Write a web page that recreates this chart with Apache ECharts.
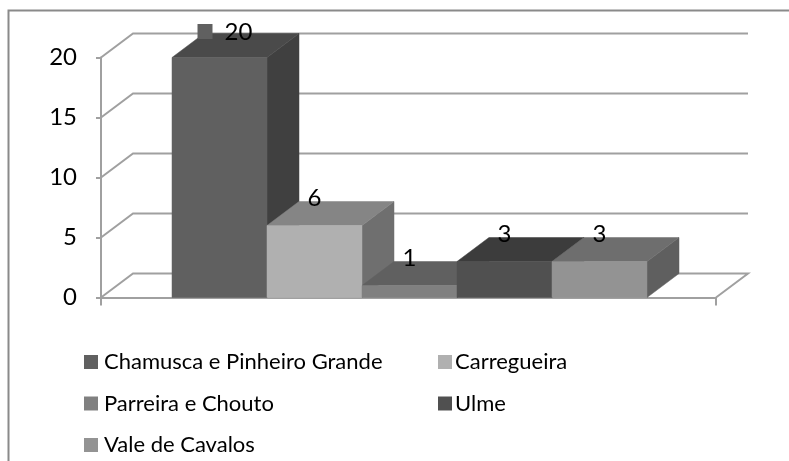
<!DOCTYPE html>
<html>
<head>
<meta charset="utf-8">
<script src="https://cdn.jsdelivr.net/npm/echarts@6/dist/echarts.min.js"></script>
<style>
  html, body { margin: 0; padding: 0; background: #fff; }
  #main { width: 789px; height: 461px; }
</style>
</head>
<body>
<div id="main"></div>
<script>
const category = ['Freguesias'];
const parishes = ['Chamusca e Pinheiro Grande', 'Carregueira', 'Parreira e Chouto', 'Ulme', 'Vale de Cavalos'];
const values = [20, 6, 1, 3, 3];
const yTicks = [0, 5, 10, 15, 20];

// front, top, side
const shades = [
  ['#606060', '#4a4a4a', '#404040'],
  ['#b0b0b0', '#858585', '#6f6f6f'],
  ['#808080', '#606060', '#525252'],
  ['#505050', '#3c3c3c', '#333333'],
  ['#939393', '#6e6e6e', '#5f5f5f']
];
const lineColor = '#a0a0a0';
const textColor = '#000';
const font = 'Lato';
const depthX = 32, depthY = 24, barWidth = 95, nudge = 1;

const chart = echarts.init(document.getElementById('main'), null, { renderer: 'canvas' });

function wallItem(params, api) {
  const p = api.coord([0, api.value(0)]);
  const half = api.size([1, 0])[0] / 2;
  const x0 = p[0] - half, x1 = p[0] + half, y = p[1];
  const isFloor = api.value(0) === 0;
  const pts = [[x0, y], [x0 + depthX, y - depthY], [x1 + depthX, y - depthY]];
  if (isFloor) pts.push([x1, y]);
  return {
    type: 'polyline',
    shape: { points: pts },
    style: { stroke: lineColor, lineWidth: 2, fill: null }
  };
}

function barRenderer(i) {
  return function (params, api) {
    const base = api.coord([0, 0]);
    const top = api.coord([0, api.value(1)]);
    const x = base[0] + nudge + (i - 2.5) * barWidth;
    const x2 = x + barWidth;
    const y0 = base[1], y1 = top[1];
    const poly = (points, fill) => ({
      type: 'polygon',
      shape: { points: points },
      style: { fill: fill, stroke: fill, lineWidth: 0.5 }
    });
    return {
      type: 'group',
      children: [
        poly([[x2, y0], [x2 + depthX, y0 - depthY], [x2 + depthX, y1 - depthY], [x2, y1]], shades[i][2]),
        poly([[x, y1], [x + depthX, y1 - depthY], [x2 + depthX, y1 - depthY], [x2, y1]], shades[i][1]),
        poly([[x, y0], [x2, y0], [x2, y1], [x, y1]], shades[i][0])
      ]
    };
  };
}

function labelRenderer(i) {
  return function (params, api) {
    const base = api.coord([0, 0]);
    const top = api.coord([0, api.value(1)]);
    const cx = base[0] + nudge + (i - 2) * barWidth;
    const cy = top[1] - depthY - (i === 0 ? 1.5 : 3);
    const children = [];
    if (i === 0) {
      children.push({
        type: 'rect',
        shape: { x: cx - 22, y: cy - 8, width: 15, height: 15 },
        style: { fill: shades[0][0] }
      });
    }
    children.push({
      type: 'text',
      style: {
        x: i === 0 ? cx + 19 : cx,
        y: cy,
        text: String(api.value(1)),
        font: '24px ' + font,
        fill: textColor,
        align: 'center',
        verticalAlign: 'middle'
      }
    });
    return { type: 'group', children: children };
  };
}

const series = [{
  type: 'custom',
  name: 'walls',
  silent: true,
  coordinateSystem: 'cartesian2d',
  renderItem: wallItem,
  encode: { y: 0 },
  data: yTicks.map(v => [v]),
  clip: false
}];

parishes.forEach((name, i) => {
  series.push({
    type: 'custom',
    name: name,
    itemStyle: { color: shades[i][0] },
    renderItem: barRenderer(i),
    encode: { x: 0, y: 1 },
    data: [[category[0], values[i]]],
    clip: false,
    z: 3
  });
});
parishes.forEach((name, i) => {
  series.push({
    type: 'custom',
    name: name + ' label',
    silent: true,
    renderItem: labelRenderer(i),
    encode: { x: 0, y: 1 },
    data: [[category[0], values[i]]],
    clip: false,
    z: 5
  });
});

const legendBase = {
  orient: 'vertical',
  icon: 'rect',
  itemWidth: 14,
  itemHeight: 14,
  itemGap: 19.5,
  padding: 0,
  top: 351,
  selectedMode: false
};
const legendText = { fontFamily: font, fontSize: 22, color: textColor };

chart.setOption({
  animation: false,
  backgroundColor: '#fff',
  grid: { left: 101, right: 73, top: 57.5, bottom: 163.5 },
  legend: [
    Object.assign({}, legendBase, {
      left: 84,
      data: [parishes[0], parishes[2], parishes[4]],
      textStyle: Object.assign({}, legendText, { padding: [0, 0, 0, 1] })
    }),
    Object.assign({}, legendBase, {
      left: 438,
      data: [parishes[1], parishes[3]],
      textStyle: Object.assign({}, legendText, { padding: [0, 0, 0, -2] })
    })
  ],
  xAxis: {
    type: 'category',
    data: category,
    axisLine: { lineStyle: { color: lineColor, width: 2 } },
    axisTick: { show: true, length: 8, lineStyle: { color: lineColor, width: 2 } },
    axisLabel: { show: false },
    splitLine: { show: false }
  },
  yAxis: {
    type: 'value',
    min: 0,
    max: 20,
    interval: 5,
    axisLine: { show: true, lineStyle: { color: lineColor, width: 2 } },
    axisTick: { show: true, length: 5, lineStyle: { color: lineColor, width: 2 } },
    axisLabel: { color: textColor, fontFamily: font, fontSize: 24, margin: 24 },
    splitLine: { show: false }
  },
  graphic: [{
    type: 'polyline',
    shape: { points: [[8.5, 461], [8.5, 10.5], [789, 10.5]] },
    style: { stroke: '#8a8a8a', lineWidth: 2, fill: null },
    silent: true
  }],
  series: series
});
</script>
</body>
</html>
